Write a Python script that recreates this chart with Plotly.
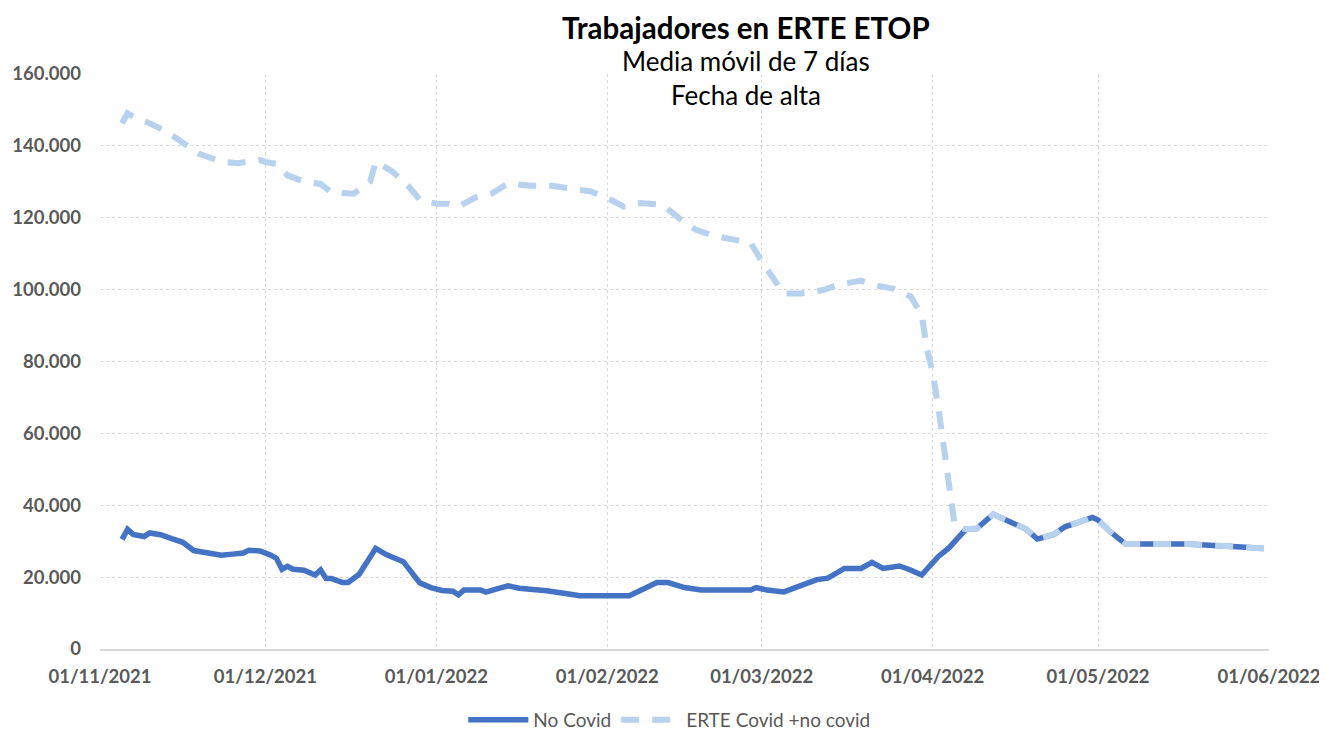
import plotly.graph_objects as go

# No Covid (7-day moving average)
fechas_no_covid = [
    "2021-11-05", "2021-11-06", "2021-11-07", "2021-11-09", "2021-11-10", "2021-11-12",
    "2021-11-14", "2021-11-16", "2021-11-18", "2021-11-20", "2021-11-23", "2021-11-25",
    "2021-11-27", "2021-11-28", "2021-11-30", "2021-12-02", "2021-12-03", "2021-12-04",
    "2021-12-05", "2021-12-06", "2021-12-08", "2021-12-10", "2021-12-11", "2021-12-12",
    "2021-12-13", "2021-12-15", "2021-12-16", "2021-12-18", "2021-12-21", "2021-12-23",
    "2021-12-26", "2021-12-29", "2021-12-31", "2022-01-02", "2022-01-04", "2022-01-05",
    "2022-01-06", "2022-01-09", "2022-01-10", "2022-01-12", "2022-01-14", "2022-01-16",
    "2022-01-19", "2022-01-21", "2022-01-25", "2022-01-27", "2022-02-05", "2022-02-07",
    "2022-02-10", "2022-02-12", "2022-02-15", "2022-02-18", "2022-02-27", "2022-02-28",
    "2022-03-02", "2022-03-05", "2022-03-08", "2022-03-11", "2022-03-13", "2022-03-16",
    "2022-03-19", "2022-03-21", "2022-03-23", "2022-03-26", "2022-03-28", "2022-03-30",
    "2022-04-02", "2022-04-04", "2022-04-07", "2022-04-09", "2022-04-12", "2022-04-15",
    "2022-04-18", "2022-04-20", "2022-04-22", "2022-04-23", "2022-04-25", "2022-04-28",
    "2022-04-30", "2022-05-01", "2022-05-03", "2022-05-06", "2022-05-17", "2022-05-27",
    "2022-05-31",
]
no_covid = [
    30500, 33300, 31900, 31300, 32300, 31800,
    30700, 29700, 27400, 27000, 26100, 26400,
    26700, 27500, 27300, 26100, 25200, 22200,
    23000, 22200, 21900, 20600, 22000, 19600,
    19600, 18500, 18500, 20800, 28000, 26200,
    24300, 18400, 17100, 16300, 16100, 15100,
    16400, 16400, 15800, 16700, 17600, 16900,
    16500, 16200, 15300, 14800, 14800, 16200,
    18500, 18500, 17100, 16400, 16400, 17100,
    16400, 15900, 17600, 19300, 19700, 22400,
    22400, 24100, 22400, 23100, 22000, 20600,
    25700, 28200, 33300, 33500, 37500, 35200,
    33300, 30600, 31700, 31900, 34000, 35500,
    36600, 35900, 32900, 29200, 29200, 28400,
    28000,
]

# ERTE Covid + no covid (7-day moving average)
fechas_erte = [
    "2021-11-05", "2021-11-06", "2021-11-07", "2021-11-10", "2021-11-13", "2021-11-17",
    "2021-11-19", "2021-11-23", "2021-11-26", "2021-11-30", "2021-12-01", "2021-12-03",
    "2021-12-05", "2021-12-08", "2021-12-11", "2021-12-13", "2021-12-17", "2021-12-20",
    "2021-12-21", "2021-12-24", "2021-12-27", "2021-12-29", "2022-01-01", "2022-01-03",
    "2022-01-05", "2022-01-08", "2022-01-11", "2022-01-14", "2022-01-18", "2022-01-22",
    "2022-01-25", "2022-01-29", "2022-02-01", "2022-02-04", "2022-02-07", "2022-02-11",
    "2022-02-14", "2022-02-17", "2022-02-20", "2022-02-24", "2022-02-27", "2022-03-01",
    "2022-03-03", "2022-03-05", "2022-03-08", "2022-03-12", "2022-03-15", "2022-03-19",
    "2022-03-21", "2022-03-25", "2022-03-28", "2022-03-30", "2022-03-31", "2022-04-01",
    "2022-04-02", "2022-04-03", "2022-04-04", "2022-04-05", "2022-04-07", "2022-04-09",
    "2022-04-12", "2022-04-15", "2022-04-18", "2022-04-20", "2022-04-22", "2022-04-23",
    "2022-04-25", "2022-04-28", "2022-04-30", "2022-05-01", "2022-05-03", "2022-05-06",
    "2022-05-17", "2022-05-27", "2022-06-01",
]
erte = [
    146300, 149100, 148100, 146300, 144000, 140000,
    137800, 135600, 135200, 136100, 135500, 135000,
    131800, 130100, 129400, 127000, 126700, 130100,
    135600, 132900, 128700, 125000, 123900, 123900,
    123100, 125600, 126700, 129600, 128900, 128900,
    128100, 127300, 125500, 123100, 124100, 123600,
    119900, 116700, 115100, 113900, 113000, 107900,
    103700, 98900, 98900, 99800, 101400, 102500,
    101400, 100200, 98100, 93100, 83300, 76900,
    67600, 56500, 46300, 34300, 33300, 33500,
    37500, 35200, 33300, 30600, 31700, 31900,
    34000, 35500, 36600, 35900, 32900, 29200,
    29200, 28400, 27800,
]

FONT = "Lato"
GRIS = "#595959"

fig = go.Figure()
fig.add_trace(go.Scatter(x=fechas_no_covid, y=no_covid, mode="lines", name="No Covid",
                         line=dict(color="#4472C4", width=5.5)))
fig.add_trace(go.Scatter(x=fechas_erte, y=erte, mode="lines", name="ERTE Covid +no covid",
                         line=dict(color="#B7D1EE", width=6, dash="18px,13px")))

# the page body has an 8px margin, so the figure is made 8px smaller
fig.update_layout(
    width=1319, height=723,
    margin=dict(l=92, r=58, t=66, b=82, autoexpand=False),
    plot_bgcolor="white", paper_bgcolor="white",
    separators=",.",
    font=dict(family=FONT, color=GRIS),
    showlegend=True,
    legend=dict(orientation="h", x=0.487, xanchor="center", y=-0.1235, yanchor="middle",
                font=dict(size=19, color=GRIS), itemwidth=60),
)

fig.update_xaxes(
    type="date", range=["2021-11-01", "2022-06-01"],
    tick0="2021-11-01", dtick="M1", tickformat="%d/%m/%Y",
    showgrid=True, gridcolor="#DADADA", griddash="dot", gridwidth=1,
    showline=True, linecolor="#D9D9D9", linewidth=2,
    zeroline=False, ticks="", ticklabelstandoff=10, ticklabeloverflow="allow",
    tickfont=dict(family=FONT, size=18.5, color=GRIS, weight="bold"),
)
fig.update_yaxes(
    range=[0, 160000], dtick=20000, tickformat=",d",
    showgrid=True, gridcolor="#DADADA", griddash="dot", gridwidth=1,
    zeroline=False, showline=False, ticks="", ticklabelstandoff=18,
    tickfont=dict(family=FONT, size=18.5, color=GRIS, weight="bold"),
)

# white box behind the title, as in the original
fig.add_shape(type="rect", xref="paper", yref="paper", x0=0.3037, x1=0.804, y0=0.9165, y1=1.01,
              fillcolor="white", line=dict(width=0), layer="between")

fig.add_annotation(text="<b>Trabajadores en ERTE ETOP</b>", xref="paper", yref="paper",
                   x=0.5526, y=1.08, showarrow=False, yanchor="middle",
                   font=dict(family=FONT, size=29.5, color="black"))
fig.add_annotation(text="Media móvil de 7 días", xref="paper", yref="paper",
                   x=0.5526, y=1.0226, showarrow=False, yanchor="middle",
                   font=dict(family=FONT, size=26, color="black"))
fig.add_annotation(text="Fecha de alta", xref="paper", yref="paper",
                   x=0.5526, y=0.9635, showarrow=False, yanchor="middle",
                   font=dict(family=FONT, size=26, color="black"))

fig.write_html("out.html")
